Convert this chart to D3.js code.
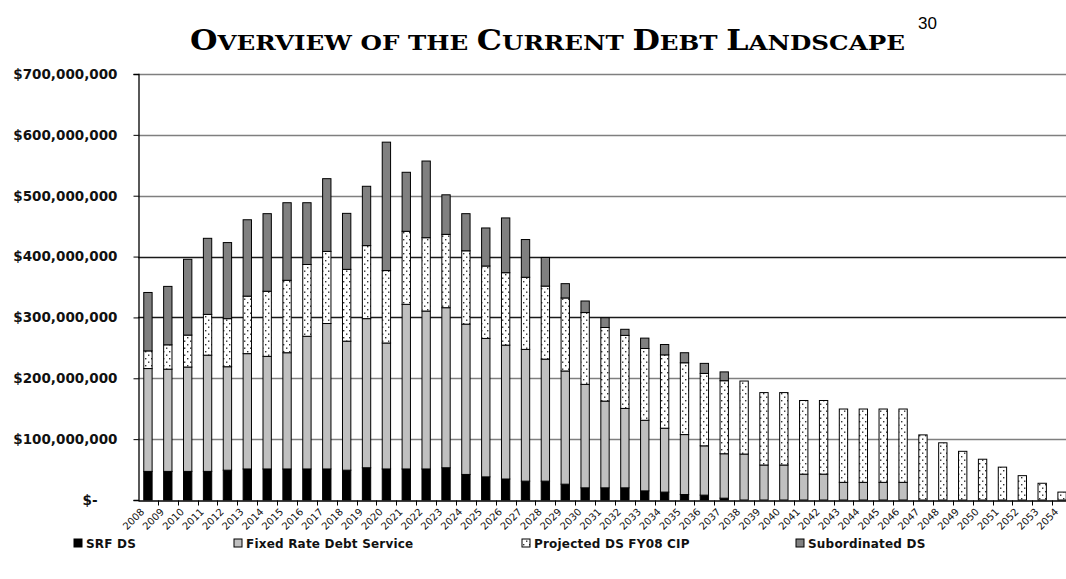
<!DOCTYPE html>
<html>
<head>
<meta charset="utf-8">
<script src="https://cdn.jsdelivr.net/npm/d3@7"></script>
<style>
  html, body { margin: 0; padding: 0; background: #fff; }
  svg { display: block; }
</style>
</head>
<body>
<svg id="chart" width="1066" height="579"></svg>
<script>
// Fiscal years on the category axis
const years = d3.range(2008, 2055).map(String);

// Annual debt service by component, in millions of dollars
const srfDS = [47, 47, 47, 47, 49, 51, 51, 51, 51, 51, 49, 53, 51, 51, 51, 53, 42, 38, 34.5, 31,
  31, 26, 20, 20, 20, 15, 13, 9, 8, 3, 0, 0, 0, 0, 0, 0, 0, 0, 0, 0, 0, 0, 0, 0, 0, 0, 0];
const fixedRateDS = [169, 168, 171.5, 191, 170, 189.5, 185, 191, 218, 239, 212, 245, 207, 270.5, 259.5, 263, 247, 227.5, 220, 216.5,
  200.5, 186, 170, 142.5, 130.5, 116, 105, 98.5, 81, 73, 75.5, 57.5, 57.5, 42.5, 42.5, 29, 29, 29, 29, 0, 0, 0, 0, 0, 0, 0, 0];
const projectedDS = [29, 40, 52.5, 67, 79, 94.5, 107, 119, 118, 118.5, 118, 120, 119, 120, 120.5, 120.5, 120.5, 119, 119, 118.5,
  120, 120, 118, 121, 120, 118, 120.5, 118, 119, 120, 120, 119, 119, 121, 121, 120.5, 120.5, 120.5, 120.5, 107, 94, 80, 67, 54, 40, 27.5, 13];
const subordinatedDS = [96, 96, 124.5, 125, 125, 125.5, 127.5, 127.5, 101.5, 119.5, 92, 97.5, 211, 97, 126, 65, 61, 62.5, 90, 62,
  47, 23.5, 19, 16, 10, 17, 17, 16.5, 16.5, 14.5, 0, 0, 0, 0, 0, 0, 0, 0, 0, 0, 0, 0, 0, 0, 0, 0, 0];

const seriesNames = ["SRF DS", "Fixed Rate Debt Service", "Projected DS FY08 CIP", "Subordinated DS"];
const yTicks = [0, 100e6, 200e6, 300e6, 400e6, 500e6, 600e6, 700e6];
const titleText = "Overview of the Current Debt Landscape";
const footnoteMark = "30";

const rows = years.map((yr, i) => ({
  year: yr,
  "SRF DS": srfDS[i] * 1e6,
  "Fixed Rate Debt Service": fixedRateDS[i] * 1e6,
  "Projected DS FY08 CIP": projectedDS[i] * 1e6,
  "Subordinated DS": subordinatedDS[i] * 1e6
}));

const svg = d3.select("#chart");
const plot = { left: 138, right: 1072, top: 74, bottom: 500 };

// Dotted fill for the projected series
const defs = svg.append("defs");
const pat = defs.append("pattern")
  .attr("id", "dots").attr("patternUnits", "userSpaceOnUse")
  .attr("width", 6).attr("height", 7);
pat.append("rect").attr("width", 6).attr("height", 7).attr("fill", "#fff");
pat.append("rect").attr("x", 1).attr("y", 1).attr("width", 1.4).attr("height", 1.4).attr("fill", "#333");
pat.append("rect").attr("x", 4).attr("y", 4.5).attr("width", 1.4).attr("height", 1.4).attr("fill", "#333");

const fills = {
  "SRF DS": "#000000",
  "Fixed Rate Debt Service": "#c0c0c0",
  "Projected DS FY08 CIP": "url(#dots)",
  "Subordinated DS": "#808080"
};

const x = d3.scaleBand().domain(years).range([plot.left, plot.right]).padding(0);
const y = d3.scaleLinear().domain([0, 700e6]).range([plot.bottom, plot.top]);
const barW = x.bandwidth() * 0.42;

// Horizontal gridlines
const darkLines = new Set([300e6, 400e6]);
svg.append("g").selectAll("line")
  .data(yTicks.filter(d => d > 0))
  .join("line")
  .attr("x1", plot.left).attr("x2", plot.right)
  .attr("y1", d => Math.round(y(d)) + 0.5).attr("y2", d => Math.round(y(d)) + 0.5)
  .attr("stroke", d => darkLines.has(d) ? "#1a1a1a" : "#7f7f7f")
  .attr("stroke-width", 1.3);

// Stacked bars
const stacked = d3.stack().keys(seriesNames)(rows);
svg.append("g").selectAll("g")
  .data(stacked)
  .join("g")
  .attr("fill", d => fills[d.key])
  .selectAll("rect")
  .data(d => d.filter(s => s[1] - s[0] > 0))
  .join("rect")
  .attr("x", d => x(d.data.year) + (x.bandwidth() - barW) / 2)
  .attr("width", barW)
  .attr("y", d => y(d[1]))
  .attr("height", d => y(d[0]) - y(d[1]))
  .attr("stroke", "#000")
  .attr("stroke-width", 1);

// Y axis
const fmt = d3.format(",");
const yAxis = svg.append("g")
  .attr("transform", `translate(${plot.left + 0.5},0)`)
  .call(d3.axisLeft(y).tickValues(yTicks).tickSize(5).tickPadding(16)
    .tickFormat(d => d === 0 ? "$-" : "$" + fmt(d)));
yAxis.select(".domain").attr("stroke", "#000").attr("stroke-width", 1.3);
yAxis.selectAll(".tick line").attr("stroke", "#000");
yAxis.selectAll(".tick text")
  .attr("font-family", "'DejaVu Sans', Verdana, sans-serif")
  .attr("font-weight", "bold").attr("font-size", 13.5).attr("fill", "#111")
  .attr("dx", d => d === 0 ? -20 : 0);

// X axis: labels under each bar, ticks between categories
const xAxis = svg.append("g")
  .attr("transform", `translate(0,${plot.bottom + 0.5})`)
  .call(d3.axisBottom(x).tickSize(0).tickSizeOuter(0).tickPadding(0));
xAxis.select(".domain").attr("stroke", "#000").attr("stroke-width", 1.3);
xAxis.selectAll(".tick text")
  .attr("font-family", "'DejaVu Sans', Verdana, sans-serif")
  .attr("font-size", 10).attr("fill", "#111")
  .attr("text-anchor", "end")
  .attr("dy", 0)
  .attr("transform", "translate(-3,12) rotate(-45)");
xAxis.append("g").selectAll("line")
  .data(years.slice(1))
  .join("line")
  .attr("x1", d => Math.round(x(d)) + 0.5).attr("x2", d => Math.round(x(d)) + 0.5)
  .attr("y1", 0).attr("y2", 5)
  .attr("stroke", "#000");

// Title set in small capitals: initial capitals full size, the rest reduced
const title = svg.append("text")
  .attr("x", 190).attr("y", 50)
  .attr("font-family", "'DejaVu Serif', serif")
  .attr("font-weight", "bold")
  .attr("textLength", 715).attr("lengthAdjust", "spacingAndGlyphs")
  .attr("fill", "#000");
title.selectAll("tspan")
  .data(titleText.split(""))
  .join("tspan")
  .attr("font-size", ch => (ch !== ch.toLowerCase()) ? 27 : 21)
  .text(ch => ch.toUpperCase());
svg.append("text")
  .attr("x", 918).attr("y", 29)
  .attr("font-family", "'Liberation Sans', Arial, sans-serif")
  .attr("font-size", 17)
  .attr("fill", "#000")
  .text(footnoteMark);

// Legend
const legendX = [74, 234, 522, 796];
const legend = svg.append("g").selectAll("g")
  .data(seriesNames)
  .join("g")
  .attr("transform", (d, i) => `translate(${legendX[i]},543)`);
legend.append("rect")
  .attr("x", 0).attr("y", -4).attr("width", 8).attr("height", 8)
  .attr("fill", d => fills[d]).attr("stroke", "#000").attr("stroke-width", 1);
legend.append("text")
  .attr("x", 12).attr("y", 4.5)
  .attr("font-family", "'DejaVu Sans', Verdana, sans-serif")
  .attr("font-weight", "bold").attr("font-size", 12)
  .attr("letter-spacing", 0.2)
  .attr("fill", "#111")
  .text(d => d);
</script>
</body>
</html>
